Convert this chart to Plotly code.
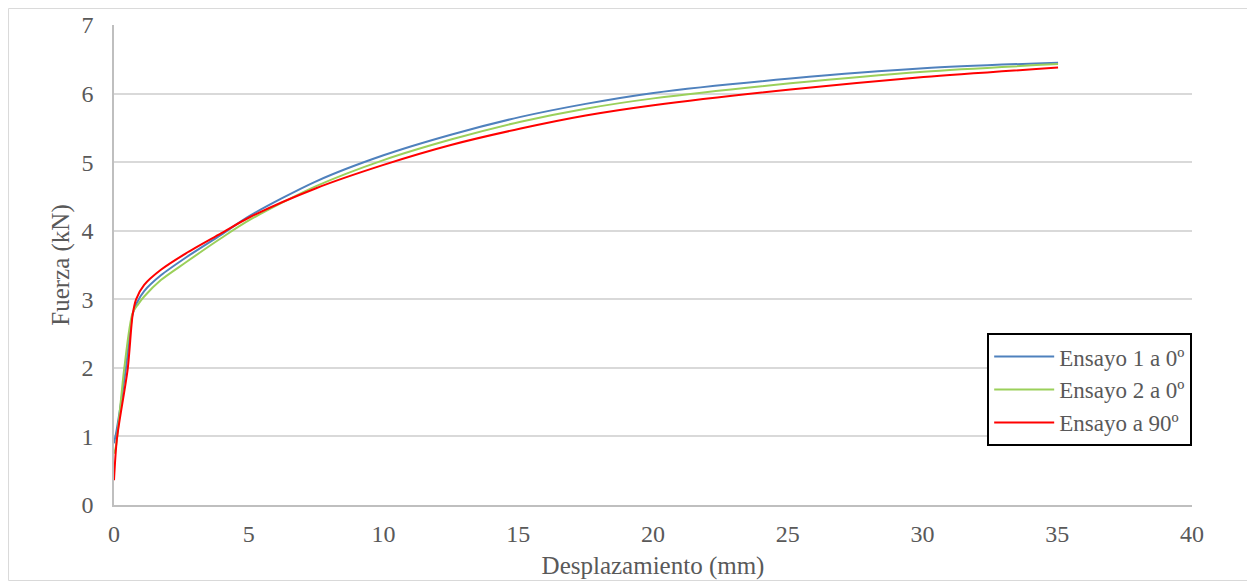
import plotly.graph_objects as go

x_e1 = [0, 0.1, 0.44, 0.69, 0.85, 1.12, 1.74, 2.67, 3.97, 5.05, 7.5, 10, 12.5, 15.09, 17.5, 20.02, 25.1, 30.04, 35.03]
y_e1 = [0.9, 1.1, 1.99, 2.78, 2.95, 3.12, 3.35, 3.61, 3.94, 4.22, 4.72, 5.10, 5.40, 5.66, 5.85, 6.01, 6.22, 6.37, 6.45]

x_e2 = [0, 0.07, 0.38, 0.69, 0.9, 1.12, 1.74, 2.67, 3.97, 5.05, 7.5, 10, 12.5, 15.09, 17.5, 20.02, 25.1, 30.04, 35.03]
y_e2 = [0.75, 0.85, 1.99, 2.8, 2.93, 3.04, 3.28, 3.54, 3.89, 4.16, 4.65, 5.03, 5.33, 5.59, 5.78, 5.93, 6.15, 6.32, 6.43]

x_e90 = [0, 0.11, 0.51, 0.69, 0.82, 1.12, 1.74, 2.67, 3.97, 5.05, 7.5, 10, 12.5, 15.09, 17.5, 20.02, 25.1, 30.04, 35.03]
y_e90 = [0.36, 0.97, 1.99, 2.77, 3.0, 3.21, 3.43, 3.67, 3.96, 4.20, 4.62, 4.96, 5.25, 5.49, 5.68, 5.83, 6.06, 6.24, 6.38]

names = ["Ensayo 1 a 0º", "Ensayo 2 a 0º", "Ensayo a 90º"]
colors = ["#4f81bd", "#9bd05a", "#ff0000"]

fig = go.Figure()
for xs, ys, n, c in zip([x_e1, x_e2, x_e90], [y_e1, y_e2, y_e90], names, colors):
    fig.add_trace(go.Scatter(x=xs, y=ys, mode="lines", name=n,
                             line=dict(color=c, width=2, shape="spline", smoothing=0.8)))

font = "Liberation Serif, Times New Roman, serif"
fig.update_layout(
    width=1247, height=573,
    margin=dict(l=106, r=63, t=17, b=76, autoexpand=False),
    plot_bgcolor="white", paper_bgcolor="white",
    font=dict(family=font, size=24, color="#595959"),
    showlegend=True,
    legend=dict(x=0.81, y=0.358, xanchor="left", yanchor="top",
                bordercolor="black", borderwidth=2, bgcolor="white",
                font=dict(family=font, size=23, color="#595959"),
                tracegroupgap=0, itemwidth=60),
    xaxis=dict(range=[0, 40], dtick=5, showgrid=False, zeroline=False, automargin=False,
               showline=True, linecolor="#bfbfbf", linewidth=1.5,
               ticks="", tickfont=dict(size=24), ticklabelstandoff=6,
               title=dict(text="Desplazamiento (mm)", font=dict(size=25), standoff=11)),
    yaxis=dict(range=[0, 7], dtick=1, showgrid=True, gridcolor="#d9d9d9", gridwidth=1.5,
               zeroline=False, showline=True, linecolor="#bfbfbf", linewidth=1.5, automargin=False,
               ticks="", tickfont=dict(size=24), ticklabelstandoff=14,
               title=dict(text="Fuerza (kN)", font=dict(size=25), standoff=5)),
)
fig.add_shape(type="rect", xref="paper", yref="paper",
              x0=-106/1078 + 0.0005, y0=-76/480 + 0.001, x1=1 + 63/1078 - 0.0005, y1=1 + 17/480 - 0.001,
              line=dict(color="#d9d9d9", width=1))
fig.write_html("out.html")
